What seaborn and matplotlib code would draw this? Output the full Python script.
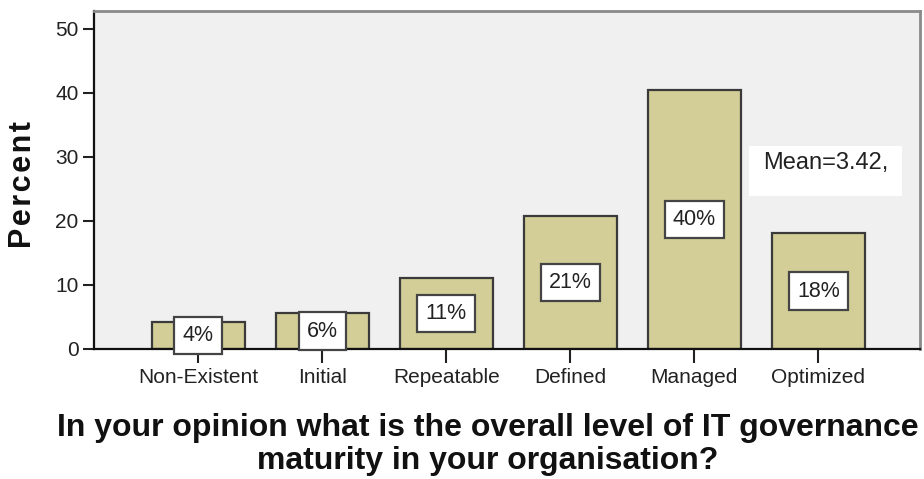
import matplotlib
matplotlib.use("Agg")
import matplotlib.pyplot as plt
import seaborn as sns
import pandas as pd
from matplotlib.patches import Rectangle

# Survey responses: share of respondents per maturity level (%)
levels = ["Non-Existent", "Initial", "Repeatable", "Defined", "Managed", "Optimized"]
percent = [4.2, 5.6, 11.1, 20.8, 40.4, 18.1]
level_codes = [0, 1, 2, 3, 4, 5]
y_ticks = [0, 10, 20, 30, 40, 50]

question = ("In your opinion what is the overall level of IT governance\n"
            "maturity in your organisation?")

df = pd.DataFrame({"level": levels, "percent": percent})
mean_value = sum(c * p for c, p in zip(level_codes, percent)) / sum(percent)

sns.set_theme(style="white")
plt.rcParams["font.family"] = ["Liberation Sans", "DejaVu Sans"]

fig = plt.figure(figsize=(9.24, 4.79), dpi=100)
ax = fig.add_axes([94 / 924, 1 - 349 / 479, (920 - 94) / 924, (349 - 11) / 479])
ax.set_facecolor("#f0f0f0")

sns.barplot(data=df, x="level", y="percent", order=levels, color="#d3ce97",
            saturation=1, width=0.75, edgecolor="#3a3a3a", linewidth=1.6, ax=ax)

ax.set_xlim(-0.84, 5.82)
ax.set_ylim(0, 52.8)
ax.set_yticks(y_ticks)
ax.set_xlabel("")
ax.set_ylabel("")

ax.tick_params(axis="y", length=8, width=1.5, color="#222222", pad=3,
               labelsize=15, labelcolor="#222222", left=True)
ax.tick_params(axis="x", length=10, width=1.5, color="#222222", pad=4,
               labelsize=15, labelcolor="#222222", bottom=True)

for side in ["left", "bottom"]:
    ax.spines[side].set_color("#111111")
    ax.spines[side].set_linewidth(1.6)
for side in ["top", "right"]:
    ax.spines[side].set_color("#8a8a8a")
    ax.spines[side].set_linewidth(2)

# Percentage labels in the middle of each bar
for i, v in enumerate(percent):
    ax.text(i, v / 2, f"{round(v)}%", ha="center", va="center", fontsize=15.5,
            color="#222222", zorder=6, clip_on=False,
            bbox=dict(boxstyle="square,pad=0.38", facecolor="white",
                      edgecolor="#444444", linewidth=1.6))

# Summary statistic box
ax.add_patch(Rectangle(((749 - 94) / 826, 1 - (196 - 11) / 338), 153 / 826, 50 / 338,
                       transform=ax.transAxes, facecolor="white", edgecolor="none",
                       zorder=5))
ax.text((763 - 94) / 826, 1 - (163 - 11) / 338, f"Mean={mean_value:.2f},",
        transform=ax.transAxes, ha="left", va="center", fontsize=17,
        color="#222222", zorder=6)

fig.text(23 / 924, 1 - 185 / 479, "P\u200ae\u200ar\u200ac\u200ae\u200an\u200at",
         rotation=90, ha="center", va="center", fontsize=22, fontweight="bold",
         color="#111111")

fig.text(488 / 924, 1 - 413 / 479, question, ha="center", va="top",
         fontsize=23, fontweight="bold", color="#111111", linespacing=1.15)

fig.savefig("out.png", dpi=100, facecolor="white")
